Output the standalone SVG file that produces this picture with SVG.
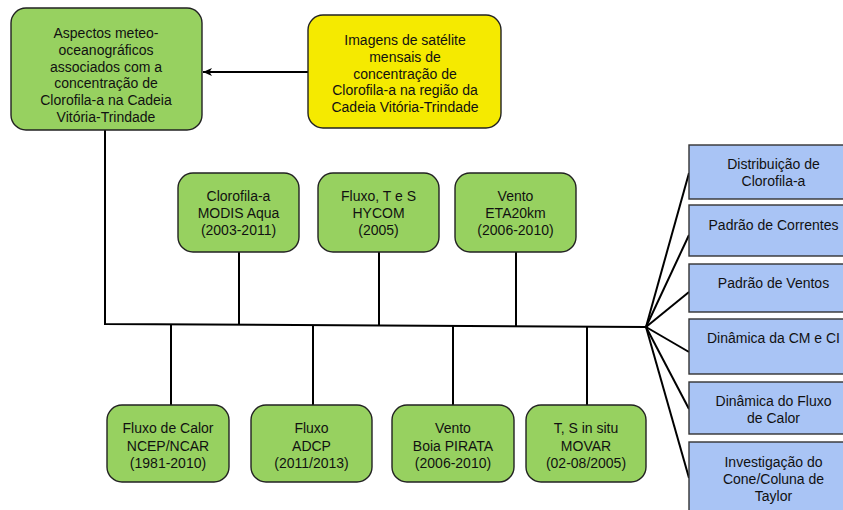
<svg xmlns="http://www.w3.org/2000/svg" width="843" height="510" viewBox="0 0 843 510">
<defs>
<style>
text{font-family:"Liberation Sans",Arial,Helvetica,sans-serif;font-size:14px;fill:#111;text-anchor:middle}
.g{fill:#97d160;stroke:#222;stroke-width:1.4}
.y{fill:#f5ea00;stroke:#222;stroke-width:1.4}
.b{fill:#a9c4f5;stroke:#333;stroke-width:1.4}
.c{stroke:#000;stroke-width:2;fill:none}
</style>
<marker id="ah" markerWidth="12" markerHeight="10" refX="10" refY="5" orient="auto" markerUnits="userSpaceOnUse">
<path d="M10,5 L1,1 L3.5,5 L1,9 Z" fill="#000"/>
</marker>
</defs>
<rect width="843" height="510" fill="#fff"/>
<g id="connectors">
<line class="c" x1="308" y1="72" x2="203" y2="72" marker-end="url(#ah)"/>
<polyline class="c" points="105,130 105,324 646,327"/>
<line class="c" x1="239" y1="252" x2="239" y2="324.5"/>
<line class="c" x1="379" y1="252" x2="379" y2="325.5"/>
<line class="c" x1="516" y1="252" x2="516" y2="326"/>
<line class="c" x1="171" y1="324.5" x2="171" y2="405"/>
<line class="c" x1="313" y1="325.5" x2="313" y2="405"/>
<line class="c" x1="453" y1="326" x2="453" y2="405"/>
<line class="c" x1="587" y1="326.5" x2="587" y2="405"/>
<line class="c" x1="646" y1="327" x2="689" y2="173"/>
<line class="c" x1="646" y1="327" x2="689" y2="235"/>
<line class="c" x1="646" y1="327" x2="689" y2="292"/>
<line class="c" x1="646" y1="327" x2="689" y2="352"/>
<line class="c" x1="646" y1="327" x2="689" y2="409"/>
<line class="c" x1="646" y1="327" x2="689" y2="478"/>
</g>
<g id="n-main">
<rect class="g" x="11" y="8" width="191" height="122" rx="15"/>
<text x="106" y="38">Aspectos meteo-</text>
<text x="106" y="54.8">oceanográficos</text>
<text x="106" y="71.6">associados com a</text>
<text x="106" y="88.4">concentração de</text>
<text x="106" y="105.2">Clorofila-a na Cadeia</text>
<text x="106" y="122">Vitória-Trindade</text>
</g>
<g id="n-sat">
<rect class="y" x="308" y="15" width="193" height="113" rx="15"/>
<text x="405" y="45">Imagens de satélite</text>
<text x="405" y="61.8">mensais de</text>
<text x="405" y="78.6">concentração de</text>
<text x="405" y="95.4">Clorofila-a na região da</text>
<text x="405" y="112.2">Cadeia Vitória-Trindade</text>
</g>
<g id="n-modis">
<rect class="g" x="178" y="173" width="121" height="79" rx="15"/>
<text x="238.5" y="201">Clorofila-a</text>
<text x="238.5" y="218">MODIS Aqua</text>
<text x="238.5" y="235">(2003-2011)</text>
</g>
<g id="n-hycom">
<rect class="g" x="318" y="173" width="121" height="79" rx="15"/>
<text x="378.5" y="201">Fluxo, T e S</text>
<text x="378.5" y="218">HYCOM</text>
<text x="378.5" y="235">(2005)</text>
</g>
<g id="n-eta">
<rect class="g" x="455" y="173" width="121" height="79" rx="15"/>
<text x="515.5" y="201">Vento</text>
<text x="515.5" y="218">ETA20km</text>
<text x="515.5" y="235">(2006-2010)</text>
</g>
<g id="n-ncep">
<rect class="g" x="107" y="405" width="122" height="77" rx="15"/>
<text x="168" y="433">Fluxo de Calor</text>
<text x="168" y="450.5">NCEP/NCAR</text>
<text x="168" y="468">(1981-2010)</text>
</g>
<g id="n-adcp">
<rect class="g" x="251" y="405" width="121" height="77" rx="15"/>
<text x="311.5" y="433">Fluxo</text>
<text x="311.5" y="450.5">ADCP</text>
<text x="311.5" y="468">(2011/2013)</text>
</g>
<g id="n-pirata">
<rect class="g" x="392" y="405" width="122" height="77" rx="15"/>
<text x="453" y="433">Vento</text>
<text x="453" y="450.5">Boia PIRATA</text>
<text x="453" y="468">(2006-2010)</text>
</g>
<g id="n-movar">
<rect class="g" x="526" y="405" width="120" height="77" rx="15"/>
<text x="586" y="433">T, S in situ</text>
<text x="586" y="450.5">MOVAR</text>
<text x="586" y="468">(02-08/2005)</text>
</g>
<g id="r-clorofila">
<rect class="b" x="689" y="145" width="169" height="54"/>
<text x="773.5" y="169">Distribuição de</text>
<text x="773.5" y="186">Clorofila-a</text>
</g>
<g id="r-correntes">
<rect class="b" x="689" y="205" width="169" height="51"/>
<text x="773.5" y="230">Padrão de Correntes</text>
</g>
<g id="r-ventos">
<rect class="b" x="689" y="264" width="169" height="48"/>
<text x="773.5" y="288">Padrão de Ventos</text>
</g>
<g id="r-cmci">
<rect class="b" x="689" y="319" width="169" height="55"/>
<text x="773.5" y="343">Dinâmica da CM e CI</text>
</g>
<g id="r-calor">
<rect class="b" x="689" y="382" width="169" height="52"/>
<text x="773.5" y="406">Dinâmica do Fluxo</text>
<text x="773.5" y="423">de Calor</text>
</g>
<g id="r-taylor">
<rect class="b" x="689" y="442" width="169" height="80"/>
<text x="773.5" y="467">Investigação do</text>
<text x="773.5" y="484">Cone/Coluna de</text>
<text x="773.5" y="501">Taylor</text>
</g>
</svg>
